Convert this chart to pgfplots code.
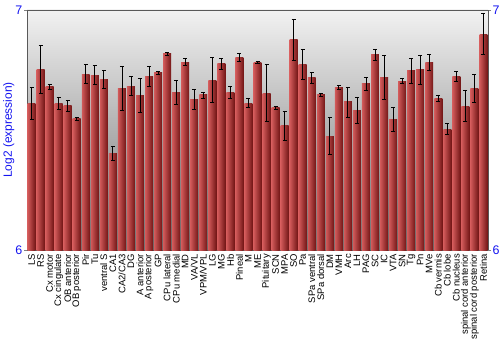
\documentclass[border=0pt]{standalone}
\usepackage{pgfplots}
\pgfplotsset{compat=1.18}
\usepackage{pgfplotstable}
\usepackage{fontspec}
\setmainfont{Liberation Sans}
\definecolor{barL}{RGB}{210,90,90}
\definecolor{barR}{RGB}{115,22,22}
\definecolor{bgT}{RGB}{242,242,242}
\definecolor{bgB}{RGB}{112,112,112}
\definecolor{lblue}{RGB}{20,20,240}
\pgfplotstableread{
x y e
0 6.611 0.068
1 6.754 0.100
2 6.680 0.011
3 6.611 0.024
4 6.601 0.023
5 6.546 0.008
6 6.733 0.039
7 6.729 0.040
8 6.711 0.038
9 6.403 0.029
10 6.674 0.092
11 6.683 0.040
12 6.645 0.072
13 6.724 0.043
14 6.739 0.007
15 6.817 0.006
16 6.657 0.050
17 6.783 0.015
18 6.628 0.042
19 6.646 0.0125
20 6.708 0.094
21 6.775 0.022
22 6.657 0.024
23 6.801 0.017
24 6.6125 0.018
25 6.783 0.004
26 6.654 0.119
27 6.592 0.008
28 6.517 0.061
29 6.875 0.085
30 6.772 0.0625
31 6.717 0.022
32 6.646 0.006
33 6.475 0.077
34 6.676 0.008
35 6.617 0.0625
36 6.582 0.055
37 6.692 0.026
38 6.8125 0.022
39 6.719 0.092
40 6.545 0.051
41 6.704 0.010
42 6.746 0.053
43 6.751 0.060
44 6.783 0.034
45 6.633 0.0125
46 6.504 0.022
47 6.724 0.021
48 6.600 0.065
49 6.674 0.057
50 6.899 0.086
}\datatable
\begin{document}
\begin{tikzpicture}
\begin{axis}[
  at={(0,0)}, anchor=south west,
  scale only axis, width=461bp, height=240bp,
  xmin=-0.5, xmax=50.5, ymin=6, ymax=7,
  axis background/.style={top color=bgT, bottom color=bgB},
  axis line style={draw=gray!70!black, line width=0.6pt},
  xtick={0,...,50},
  xticklabels={LS,RS,Cx motor,Cx cingulate,OB anterior,OB posterior,Pir,Tu,ventral S,CA1,CA2/CA3,DG,A anterior,A posterior,GP,CPu lateral,CPu medial,MD,VA/VL,VPM/VPL,LG,MG,Hb,Pineal,M,ME,Pituitary,SCN,MPA,SO,Pa,SPa ventral,SPa dorsal,DM,VMH,Arc,LH,PAG,SC,IC,VTA,SN,Tg,Pn,MVe,Cb vermis,Cb lobe,Cb nucleus,spinal cord anterior,spinal cord posterior,Retina},
  x tick label style={rotate=90, anchor=east, font=\fontsize{9.5}{10}\selectfont, inner sep=1pt},
  major x tick style={draw=none},
  ytick={6,7},
  ytick pos=left,
  tick align=outside,
  major tick length=3bp,
  y tick label style={font=\fontsize{12.5}{13}\selectfont, text=lblue, inner sep=1.5pt},
  /pgf/number format/assume math mode=true,
  ylabel={Log2 (expression)},
  every axis y label/.style={at={(axis description cs:-0.027,0.5)}, rotate=90, anchor=south, inner sep=0pt, font=\fontsize{12}{13}\selectfont, text=lblue},
  clip=false,
]
\pgfplotsinvokeforeach{0,...,50}{
\addplot[ybar, bar width=0.88, draw=none, left color=barL, right color=barR,
  x filter/.expression={abs(x-#1)<0.1 ? x : nan},
  error bars/.cd, y dir=both, y explicit,
  error bar style={black, line width=0.8pt},
  error mark options={rotate=90, mark size=2bp, black, line width=0.8pt}]
  table[x=x, y=y, y error=e] {\datatable};
}
\end{axis}
\begin{axis}[
  at={(0,0)}, anchor=south west,
  scale only axis, width=461bp, height=240bp,
  xmin=-0.5, xmax=50.5, ymin=6, ymax=7,
  axis x line=none, axis y line*=right,
  axis line style={draw=gray!70!black, line width=0.6pt},
  ytick={6,7}, tick align=outside, major tick length=3bp,
  y tick label style={font=\fontsize{12.5}{13}\selectfont, text=lblue, inner sep=1.5pt},
  /pgf/number format/assume math mode=true,
]
\addplot[draw=none] coordinates {(0,6.5)};
\end{axis}
\pgfresetboundingbox
\path[use as bounding box] (-27bp,-100bp) rectangle (473bp,250bp);
\end{tikzpicture}
\end{document}
